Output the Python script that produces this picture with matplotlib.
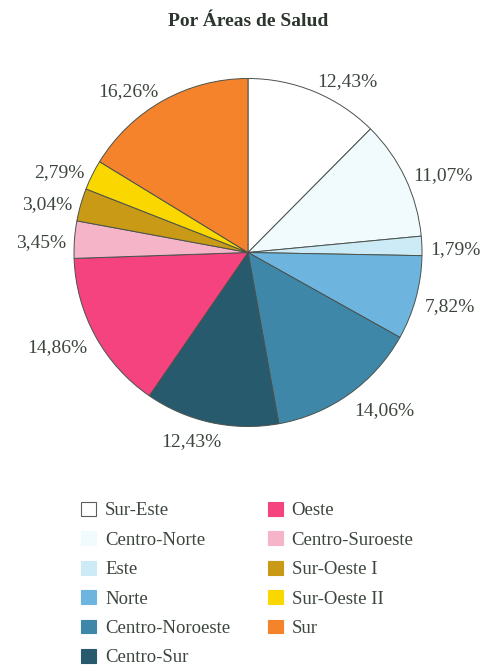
import matplotlib
matplotlib.use("Agg")
import numpy as np
import matplotlib.pyplot as plt
from matplotlib.patches import Rectangle
from matplotlib.transforms import offset_copy

categories = ["Sur-Este", "Centro-Norte", "Este", "Norte", "Centro-Noroeste",
              "Centro-Sur", "Oeste", "Centro-Suroeste", "Sur-Oeste I",
              "Sur-Oeste II", "Sur"]
values = [12.43, 11.07, 1.79, 7.82, 14.06, 12.43, 14.86, 3.45, 3.04, 2.79, 16.26]
colors = ["#ffffff", "#f1fafc", "#cdebf6", "#6db5de", "#3f87a9", "#285a6e",
          "#f4437f", "#f6b4c8", "#c89a16", "#fbd700", "#f5832c"]
title = "Por Áreas de Salud"

TXT = "#3c463e"
plt.rcParams['font.family'] = ['Liberation Serif', 'DejaVu Serif']

fig = plt.figure(figsize=(4.84, 6.69), dpi=100)
cx, cy, r = 248 / 484, 1 - 252.5 / 669, 174
ax = fig.add_axes([cx - r / 484, cy - r / 669, 2 * r / 484, 2 * r / 669])

wedges, _ = ax.pie(
    values, colors=colors, startangle=90, counterclock=False,
    wedgeprops=dict(edgecolor="#4a524c", linewidth=0.7), radius=1.0)
ax.set_xlim(-1, 1)
ax.set_ylim(-1, 1)
ax.set_aspect("equal")
ax.axis("off")

total = sum(values)
fig.canvas.draw()
renderer = fig.canvas.get_renderer()
digit_h = 13.0
for w, v in zip(wedges, values):
    th = np.deg2rad((w.theta1 + w.theta2) / 2)
    c, s = np.cos(th), np.sin(th)
    label = f"{100 * v / total:.2f}".replace(".", ",") + "%"
    t = ax.text(0, 0, label, ha="center", va="baseline", fontsize=14, color=TXT)
    wpx = t.get_window_extent(renderer).width
    fx = np.clip(c / 0.35, -1, 1)
    fy = s
    dx = fx * wpx / 2
    dy = fy * digit_h / 2 - digit_h / 2 - 2.5
    d = 1.05
    t.set_position((d * c, d * s))
    t.set_transform(offset_copy(ax.transData, fig=fig, x=dx, y=dy, units="dots"))

fig.text(0.512, 0.968, title, ha="center", va="center", fontsize=14,
         fontweight="bold", color="#2c352e")

handles = []
for i, c in enumerate(colors):
    ec = "#5a5f5a" if i == 0 else c
    handles.append(Rectangle((0, 0), 1, 1, facecolor=c, edgecolor=ec, linewidth=0.8))

leg = fig.legend(handles, categories, ncol=2, loc="upper left",
                 bbox_to_anchor=(81 / 484, 1 - 502 / 669), frameon=False,
                 fontsize=13.5, handlelength=0.8, handleheight=0.75,
                 handletextpad=0.48, labelspacing=0.64, columnspacing=2.0,
                 borderpad=0, borderaxespad=0)
for t in leg.get_texts():
    t.set_color(TXT)

fig.savefig("out.png", dpi=100)
